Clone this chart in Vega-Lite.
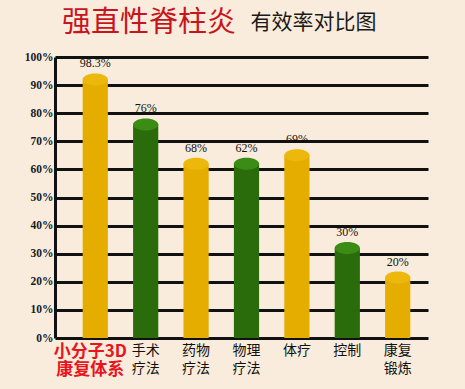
{
  "$schema": "https://vega.github.io/schema/vega-lite/v6.json",
  "width": 373,
  "height": 281,
  "autosize": "none",
  "padding": {"left": 55, "top": 57, "right": 37, "bottom": 51},
  "background": "#f9ecdc",
  "config": {"view": {"stroke": null}},
  "title": {
    "text": "强直性脊柱炎",
    "anchor": "start",
    "frame": "group",
    "dx": 7,
    "offset": -27,
    "font": "Noto Sans CJK SC",
    "fontSize": 29,
    "fontWeight": "normal",
    "color": "#c8141c"
  },
  "data": {
    "values": [
      {"name": "小分子3D 康复体系", "rate": 0.983, "drawn": 0.92},
      {"name": "手术 疗法", "rate": 0.76, "drawn": 0.76},
      {"name": "药物 疗法", "rate": 0.68, "drawn": 0.62},
      {"name": "物理 疗法", "rate": 0.62, "drawn": 0.62},
      {"name": "体疗", "rate": 0.69, "drawn": 0.65},
      {"name": "控制", "rate": 0.30, "drawn": 0.32},
      {"name": "康复 锻炼", "rate": 0.20, "drawn": 0.215}
    ]
  },
  "encoding": {
    "x": {
      "field": "name",
      "type": "nominal",
      "sort": null,
      "scale": {"paddingInner": 0.5, "paddingOuter": 0.45, "align": 0.61},
      "axis": {
        "title": "有效率对比图",
        "titleX": 258,
        "titleY": -316,
        "titleAlign": "center",
        "titleBaseline": "middle",
        "titleFont": "Noto Sans CJK SC",
        "titleFontSize": 21,
        "titleFontWeight": "normal",
        "titleColor": "#1a1a1a",
        "domain": false,
        "ticks": false,
        "labelAngle": 0,
        "labelExpr": "split(datum.label, ' ')",
        "labelFont": "Noto Sans CJK SC",
        "labelFontSize": {"condition": {"test": "datum.value === '小分子3D 康复体系'", "value": 17}, "value": 14},
        "labelFontWeight": {"condition": {"test": "datum.value === '小分子3D 康复体系'", "value": "bold"}, "value": "normal"},
        "labelColor": {"condition": {"test": "datum.value === '小分子3D 康复体系'", "value": "#e8141e"}, "value": "#111111"},
        "labelOffset": {"condition": {"test": "datum.value === '小分子3D 康复体系'", "value": -5}, "value": 0},
        "labelLineHeight": 18,
        "labelPadding": 5
      }
    },
    "y": {
      "field": "drawn",
      "type": "quantitative",
      "scale": {"domain": [0, 1]},
      "axis": {
        "title": null,
        "values": [0, 0.1, 0.2, 0.3, 0.4, 0.5, 0.6, 0.7, 0.8, 0.9, 1],
        "format": ".0%",
        "grid": true,
        "gridColor": "#111111",
        "gridWidth": 3,
        "gridOpacity": 1,
        "domain": true,
        "domainColor": "#111111",
        "domainWidth": 3,
        "ticks": false,
        "labelFont": "Liberation Serif",
        "labelFontSize": 11.5,
        "labelFontWeight": "bold",
        "labelColor": "#1a1a1a",
        "labelPadding": 2
      }
    }
  },
  "layer": [
    {
      "mark": {"type": "bar"},
      "encoding": {
        "color": {
          "condition": {"test": "indexof(['手术 疗法', '物理 疗法', '控制'], datum.name) >= 0", "value": "#2a6c0b"},
          "value": "#e5ad00"
        }
      }
    },
    {
      "mark": {
        "type": "point",
        "shape": "M -1 0 A 1 0.48 0 1 1 1 0 A 1 0.48 0 1 1 -1 0 Z",
        "size": 635,
        "filled": true,
        "opacity": 1
      },
      "encoding": {
        "color": {
          "condition": {"test": "indexof(['手术 疗法', '物理 疗法', '控制'], datum.name) >= 0", "value": "#3a8c14"},
          "value": "#ecb80c"
        }
      }
    },
    {
      "mark": {
        "type": "text",
        "dy": -9,
        "baseline": "bottom",
        "font": "Liberation Serif",
        "fontSize": 12,
        "color": "#111111"
      },
      "encoding": {
        "text": {"field": "rate", "type": "quantitative", "format": ".1~%"}
      }
    }
  ]
}
